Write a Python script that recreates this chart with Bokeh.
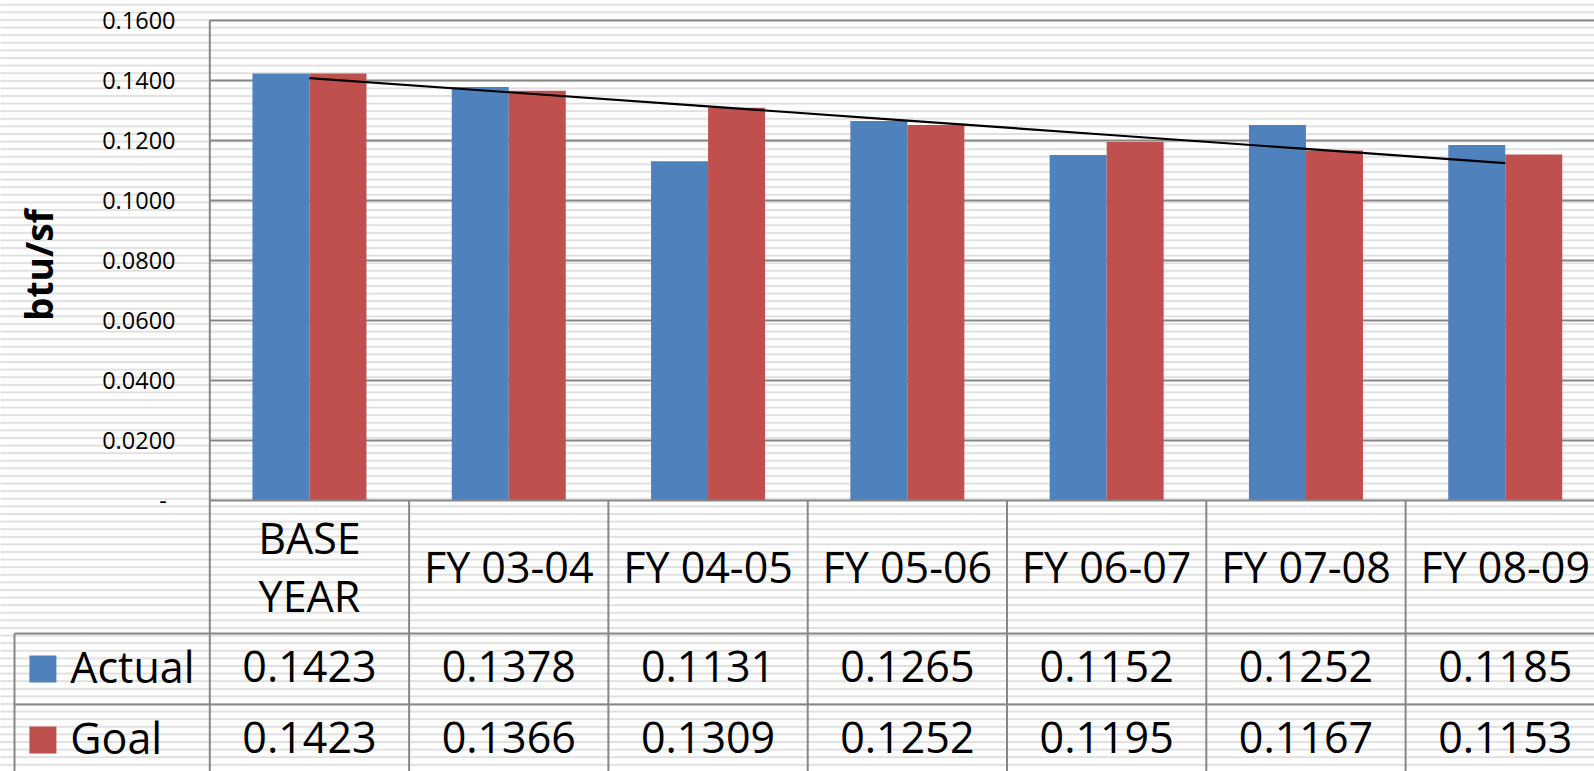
import numpy as np
from bokeh.plotting import figure
from bokeh.models import Range1d
from bokeh.embed import file_html
from bokeh.resources import INLINE
from bokeh.core.properties import value

# ---------------- data ----------------
categories = ["BASE\nYEAR", "FY 03-04", "FY 04-05", "FY 05-06", "FY 06-07", "FY 07-08", "FY 08-09"]
actual = [0.1423, 0.1378, 0.1131, 0.1265, 0.1152, 0.1252, 0.1185]
goal = [0.1423, 0.1366, 0.1309, 0.1252, 0.1195, 0.1167, 0.1153]
series_names = ["Actual", "Goal"]
y_ticks = [0.02, 0.04, 0.06, 0.08, 0.10, 0.12, 0.14, 0.16]
y_tick_labels = ["0.0200", "0.0400", "0.0600", "0.0800", "0.1000", "0.1200", "0.1400", "0.1600"]
zero_label = "-"
y_title = "btu/sf"

# ---------------- layout ----------------
BLUE = "#4F81BD"
RED = "#C0504D"
GRID = "#878787"
FONT = value("Open Sans")
W, H = 1594, 771
X0, X1 = -1.0502, 6.9478          # category units (each category = 1)
Y0, Y1 = -0.09033, 0.16667        # value units
HDR_BOT = -0.04433
ROW1_BOT = -0.06800
ROW2_BOT = -0.09167
LEG_LEFT = -0.980
BAR_W = 0.286
TXT_SHIFT = 0.0009

n = len(categories)
xc = np.arange(n) + 0.5

p = figure(width=W, height=H, output_backend="svg", toolbar_location=None,
           x_range=Range1d(X0, X1), y_range=Range1d(Y0, Y1),
           min_border=0, min_border_left=0, min_border_right=0,
           min_border_top=0, min_border_bottom=0)
p.axis.visible = False
p.grid.visible = False
p.outline_line_color = None
p.background_fill_color = "white"
p.border_fill_color = "white"

# striped background
p.quad(left=[X0 - 1], right=[X1 + 1], bottom=[Y0 - 1], top=[Y1 + 1],
       fill_color="white", line_color=None,
       hatch_pattern="horizontal_line", hatch_color="#e0e0e0",
       hatch_weight=2, hatch_scale=7.6)

# gridlines (value axis)
p.segment(x0=[0] * len(y_ticks), x1=[X1 + 1] * len(y_ticks), y0=y_ticks, y1=y_ticks,
          line_color=GRID, line_width=2)

# bars
p.vbar(x=xc - BAR_W / 2, top=actual, bottom=0, width=BAR_W,
       fill_color=BLUE, line_color=None)
p.vbar(x=xc + BAR_W / 2, top=goal, bottom=0, width=BAR_W,
       fill_color=RED, line_color=None)

# linear trendline of Goal
k = np.arange(1, n + 1)
slope, icpt = np.polyfit(k, goal, 1)
trend = slope * k + icpt
p.line(x=xc, y=trend, line_color="black", line_width=2.2)

# axis baseline and table lines
p.segment(x0=[0], x1=[X1 + 1], y0=[0], y1=[0], line_color=GRID, line_width=2)
p.segment(x0=[LEG_LEFT, LEG_LEFT], x1=[X1 + 1, X1 + 1],
          y0=[HDR_BOT, ROW1_BOT], y1=[HDR_BOT, ROW1_BOT],
          line_color=GRID, line_width=2)
p.segment(x0=[0], x1=[0], y0=[y_ticks[-1]], y1=[Y0 - 1], line_color=GRID, line_width=2)
vx = list(range(1, n))
p.segment(x0=vx, x1=vx, y0=[0] * len(vx), y1=[Y0 - 1] * len(vx),
          line_color=GRID, line_width=2)
p.segment(x0=[LEG_LEFT], x1=[LEG_LEFT], y0=[HDR_BOT], y1=[Y0 - 1],
          line_color=GRID, line_width=2)

# y tick labels
p.text(x=[-0.172] * len(y_ticks), y=y_ticks, text=y_tick_labels,
       text_font=FONT, text_font_size="23.5px", text_align="right",
       text_baseline="middle", text_color="black")
p.text(x=[-0.216], y=[0.0], text=[zero_label],
       text_font=FONT, text_font_size="23.5px", text_align="right",
       text_baseline="middle", text_color="black")

# y title
p.text(x=[-0.858], y=[0.0785], text=[y_title], angle=np.pi / 2,
       text_font=FONT, text_font_size="37px", text_font_style="bold",
       text_align="center", text_baseline="middle", text_color="black")

# header row
p.text(x=xc, y=[(0 + HDR_BOT) / 2 + 0.0003] * n, text=categories,
       text_font=FONT, text_font_size="43px", text_align="center",
       text_baseline="middle", text_line_height=0.98, text_color="black")

# data rows
r1 = (HDR_BOT + ROW1_BOT) / 2
r2 = (ROW1_BOT + ROW2_BOT) / 2
p.text(x=xc, y=[r1 + TXT_SHIFT] * n, text=[f"{v:.4f}" for v in actual],
       text_font=FONT, text_font_size="43px", text_align="center",
       text_baseline="middle", text_color="black")
p.text(x=xc, y=[r2 + TXT_SHIFT] * n, text=[f"{v:.4f}" for v in goal],
       text_font=FONT, text_font_size="43px", text_align="center",
       text_baseline="middle", text_color="black")

# legend keys in table
p.rect(x=[-0.8375, -0.8375], y=[r1, r2], width=27, height=27,
       width_units="screen", height_units="screen",
       fill_color=[BLUE, RED], line_color=None)
p.text(x=[-0.700, -0.700], y=[r1 + TXT_SHIFT, r2 + TXT_SHIFT], text=series_names,
       text_font=FONT, text_font_size="43px", text_align="left",
       text_baseline="middle", text_color="black")

open("out.html", "w").write(file_html(p, INLINE))
